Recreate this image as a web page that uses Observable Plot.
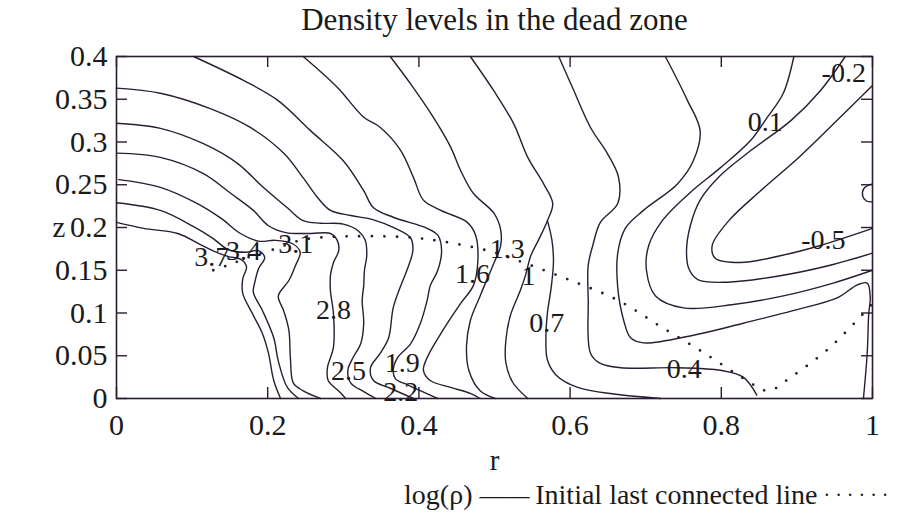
<!DOCTYPE html>
<html><head><meta charset="utf-8">
<script src="https://cdn.jsdelivr.net/npm/d3@7"></script>
<script src="https://cdn.jsdelivr.net/npm/@observablehq/plot@0.6"></script>
<style>body{margin:0;background:#fff}svg{display:block}</style>
</head><body><div id="chart"></div>
<script>
const titleText = "Density levels in the dead zone";
const xLabel = "r", yLabel = "z";
const xTicks = [0, 0.2, 0.4, 0.6, 0.8, 1];
const xTickLabels = ["0", "0.2", "0.4", "0.6", "0.8", "1"];
const yTicks = [0, 0.05, 0.1, 0.15, 0.2, 0.25, 0.3, 0.35, 0.4];
const yTickLabels = ["0", "0.05", "0.1", "0.15", "0.2", "0.25", "0.3", "0.35", "0.4"];

// contour lines of log(rho): [r, z]
const c37 = [[0,.206],[.036,.199],[.081,.193],[.111,.180],[.127,.173],[.148,.166],[.164,.163],[.172,.154],[.167,.140],[.167,.123],[.180,.099],[.193,.076],[.201,.053],[.208,.021],[.217,0]];
const c34 = [[0,.229],[.058,.220],[.102,.201],[.128,.187],[.148,.174],[.171,.171],[.188,.173],[.196,.165],[.188,.152],[.183,.136],[.181,.124],[.193,.103],[.208,.071],[.214,.044],[.226,.013],[.241,0]];
const c31 = [[.003,.256],[.058,.247],[.107,.228],[.138,.211],[.164,.193],[.188,.184],[.210,.185],[.233,.181],[.243,.171],[.237,.156],[.228,.138],[.214,.120],[.221,.103],[.228,.080],[.230,.048],[.234,.018],[.247,.009],[.270,0]];
const c28 = [[0,.287],[.058,.282],[.115,.263],[.151,.240],[.181,.220],[.201,.202],[.224,.194],[.257,.193],[.283,.193],[.292,.185],[.294,.173],[.287,.159],[.283,.144],[.283,.126],[.287,.099],[.287,.060],[.279,.036],[.280,.021],[.296,.007],[.303,0]];
const c25 = [[0,.322],[.058,.316],[.115,.298],[.160,.275],[.194,.247],[.226,.223],[.247,.208],[.270,.205],[.300,.204],[.320,.196],[.329,.185],[.331,.167],[.328,.150],[.327,.132],[.325,.115],[.327,.088],[.323,.064],[.313,.048],[.306,.033],[.310,.018],[.327,.008],[.343,0]];
const c22 = [[0,.363],[.058,.357],[.124,.339],[.177,.317],[.221,.287],[.247,.258],[.266,.235],[.283,.220],[.310,.214],[.340,.209],[.369,.199],[.389,.188],[.392,.173],[.385,.152],[.376,.132],[.366,.106],[.360,.071],[.349,.053],[.336,.036],[.340,.021],[.362,.012],[.393,0]];
const c19 = [[.102,.400],[.168,.372],[.213,.349],[.257,.313],[.300,.278],[.327,.243],[.340,.223],[.366,.212],[.411,.199],[.425,.191],[.430,.173],[.425,.150],[.415,.132],[.411,.115],[.402,.088],[.389,.064],[.372,.048],[.366,.033],[.369,.023],[.385,.016],[.425,0]];
const c16 = [[.247,.400],[.292,.364],[.327,.329],[.349,.317],[.376,.290],[.393,.258],[.406,.232],[.429,.220],[.464,.206],[.475,.191],[.478,.161],[.472,.132],[.455,.111],[.429,.076],[.411,.048],[.406,.033],[.415,.021],[.442,.013],[.468,.006],[.481,0]];
const c13 = [[.362,.400],[.389,.368],[.419,.329],[.442,.294],[.455,.267],[.472,.240],[.499,.217],[.508,.198],[.508,.178],[.499,.158],[.481,.120],[.468,.091],[.463,.062],[.466,.033],[.481,.009],[.501,0]];
const c10 = [[.468,.400],[.499,.360],[.525,.322],[.544,.282],[.565,.251],[.577,.228],[.570,.208],[.558,.185],[.548,.167],[.541,.144],[.534,.126],[.521,.097],[.515,.068],[.515,.042],[.524,.019],[.544,0]];
const c07 = [[.570,.208],[.576,.185],[.578,.160],[.575,.130],[.570,.100],[.568,.070],[.570,.045],[.582,.027],[.610,.013],[.660,.005],[.720,0]];
const c04 = [[.585,.400],[.603,.364],[.627,.317],[.649,.287],[.664,.259],[.663,.228],[.640,.206],[.630,.179],[.624,.156],[.624,.115],[.627,.053],[.640,.041],[.667,.036],[.742,.036],[.799,.033],[.829,.025],[.847,.004]];
const c01a = [[.726,.400],[.755,.349],[.772,.313],[.763,.278],[.742,.251],[.697,.220],[.673,.199],[.663,.170],[.663,.130],[.671,.091],[.680,.071],[.697,.065],[.763,.074],[.829,.088],[.896,.103],[.954,.118],[.980,.133],[.993,.135],[.997,.118],[.995,.099],[.993,.053],[.988,0]];
const c01b = [[.896,.400],[.882,.357],[.861,.329],[.839,.302],[.799,.270],[.759,.241],[.722,.208],[.704,.179],[.701,.150],[.713,.120],[.750,.106],[.816,.110],[.882,.120],[.948,.135],[1.0,.150]];
const cm02 = [[.964,.400],[.931,.360],[.892,.325],[.839,.290],[.799,.261],[.772,.232],[.759,.202],[.754,.173],[.757,.152],[.769,.139],[.808,.136],[.874,.143],[.940,.155],[1.0,.170]];
const cm05 = [[1.0,.366],[.962,.333],[.905,.284],[.852,.243],[.810,.208],[.788,.179],[.792,.164],[.825,.159],[.878,.167],[.931,.179],[1.0,.199]];
const cm08 = [[1.0,.251],[.989,.246],[.987,.237],[.992,.231],[1.0,.230]];

const contours = [
  ["3.7", c37], ["3.4", c34], ["3.1", c31], ["2.8", c28], ["2.5", c25], ["2.2", c22],
  ["1.9", c19], ["1.6", c16], ["1.3", c13], ["1", c10], ["0.7", c07], ["0.4", c04],
  ["0.1a", c01a], ["0.1b", c01b], ["-0.2", cm02], ["-0.5", cm05], ["-0.8", cm08]
];

// initial last connected line
const lastLine = [[.128,.150],[.151,.157],[.177,.166],[.210,.175],[.243,.185],[.283,.189],[.376,.189],[.429,.184],[.495,.172],[.538,.159],[.601,.138],[.663,.115],[.720,.084],[.776,.054],[.832,.022],[.862,.009],[.892,.025],[.944,.060],[1.0,.111]];

// contour labels
const labelText = ["3.7", "3.4", "3.1", "2.8", "2.5", "2.2", "1.9", "1.6", "1.3", "1", "0.7", "0.4", "0.1", "-0.2", "-0.5"];
const labelR = [.126, .168, .237, .287, .307, .376, .378, .471, .517, .545, .569, .751, .858, .962, .935];
const labelZ = [.165, .173, .181, .104, .032, .007, .042, .145, .175, .143, .088, .034, .323, .381, .185];

const rows = contours.flatMap(([lev, pts]) => pts.map(([r, z]) => ({r, z, lev})));
const lastRows = lastLine.map(([r, z]) => ({r, z}));
const labels = labelText.map((t, i) => ({t, r: labelR[i], z: labelZ[i]}));

const ink = "#2a1d33";
const font = "Liberation Serif";
const T = {fontFamily: font, lineAnchor: "middle", fill: "#1a1a1a"};

const chart = Plot.plot({
  width: 902, height: 522,
  marginLeft: 116, marginRight: 30, marginTop: 56, marginBottom: 124,
  x: {domain: [0, 1], axis: null},
  y: {domain: [0, 0.4], axis: null},
  style: {fontFamily: font, fontSize: "28px", color: "#1a1a1a", background: "#fff"},
  marks: [
    Plot.line(rows, {x: "r", y: "z", z: "lev", stroke: ink, strokeWidth: 1.4, curve: "catmull-rom"}),
    Plot.line(lastRows, {x: "r", y: "z", stroke: ink, strokeWidth: 2.8, strokeLinecap: "round", strokeDasharray: "0,12.6", curve: "catmull-rom"}),
    Plot.text(labels, {...T, x: "r", y: "z", text: "t", fontSize: 28}),
    Plot.frame({stroke: ink, strokeWidth: 1.6}),
    Plot.tickX(xTicks, {x: d => d, insetTop: 331, stroke: ink, strokeWidth: 1.4}),
    Plot.tickX(xTicks, {x: d => d, insetBottom: 331, stroke: ink, strokeWidth: 1.4}),
    Plot.tickY(yTicks, {y: d => d, insetRight: 745, stroke: ink, strokeWidth: 1.4}),
    Plot.tickY(yTicks, {y: d => d, insetLeft: 745, stroke: ink, strokeWidth: 1.4}),
    Plot.text(xTicks, {...T, x: d => d, frameAnchor: "bottom", dy: 27, text: (d, i) => xTickLabels[i], fontSize: 30}),
    Plot.text(yTicks, {...T, y: d => d, frameAnchor: "left", dx: -9, textAnchor: "end", text: (d, i) => yTickLabels[i], fontSize: 30}),
    Plot.text([titleText], {...T, frameAnchor: "top", dy: -36, text: d => d, fontSize: 31}),
    Plot.text([xLabel], {...T, frameAnchor: "bottom", dy: 62, text: d => d, fontSize: 29}),
    Plot.text([yLabel], {...T, frameAnchor: "left", dx: -64, text: d => d, fontSize: 29}),
    Plot.text(["log(ρ)"], {...T, frameAnchor: "bottom", dx: -22, dy: 97, textAnchor: "end", text: d => d, fontSize: 28}),
    Plot.text(["——"], {...T, frameAnchor: "bottom", dx: -15, dy: 97, textAnchor: "start", text: d => d, fontSize: 25}),
    Plot.text(["Initial last connected line"], {...T, frameAnchor: "bottom", dx: 323, dy: 97, textAnchor: "end", text: d => d, fontSize: 28}),
    Plot.text(["· · · · · ·"], {...T, frameAnchor: "bottom", dx: 329, dy: 97, textAnchor: "start", text: d => d, fontSize: 20})
  ]
});
document.getElementById("chart").append(chart);
</script>
</body></html>
